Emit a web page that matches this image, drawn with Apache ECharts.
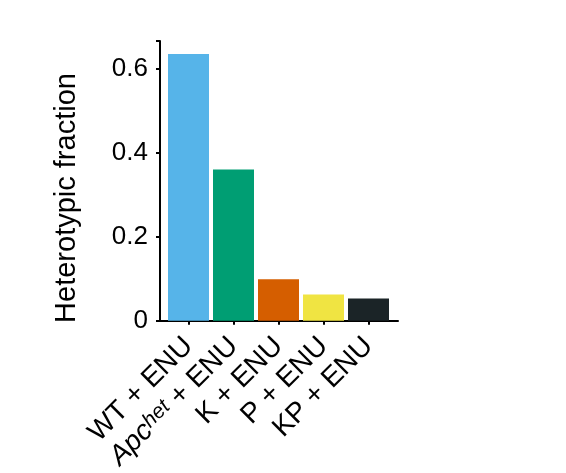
<!DOCTYPE html>
<html>
<head>
<meta charset="utf-8">
<script src="https://cdn.jsdelivr.net/npm/echarts@6/dist/echarts.min.js"></script>
<style>
html,body{margin:0;padding:0;background:#fff;}
#chart{width:566px;height:473px;}
</style>
</head>
<body>
<div id="chart"></div>
<script>
var categories = ['WT + ENU', 'Apc het + ENU', 'K + ENU', 'P + ENU', 'KP + ENU'];
var values = [0.635, 0.360, 0.099, 0.063, 0.053];
var barColors = ['#56B4E9', '#009E73', '#D55E00', '#F0E442', '#1B2427'];
var yTicks = [0, 0.2, 0.4, 0.6];
var yTitle = 'Heterotypic fraction';

var FONT = 'Liberation Sans';
var chart = echarts.init(document.getElementById('chart'));
var yMax = 0.666;

chart.setOption({
  backgroundColor: '#fff',
  animation: false,
  textStyle: { fontFamily: FONT },
  grid: [
    { left: 160, right: 168, top: 41, bottom: 152 },
    { left: 166, right: 175, top: 41, bottom: 152 }
  ],
  xAxis: [
    { type: 'value', gridIndex: 0, min: 0, max: 1,
      axisLine: { show: true, lineStyle: { color: '#000', width: 2 } },
      axisTick: { show: false }, axisLabel: { show: false }, splitLine: { show: false } },
    { type: 'category', gridIndex: 1, data: categories, boundaryGap: true,
      axisLine: { show: false },
      axisTick: { show: true, alignWithLabel: true, length: 4, lineStyle: { color: '#000', width: 2 } },
      axisLabel: {
        rotate: 45, margin: 21, color: '#000', fontSize: 28, fontFamily: FONT, interval: 0,
        formatter: function (v) {
          if (v.indexOf('Apc het') === 0) { return '{i|Apc}{s|het}' + v.slice(7); }
          return v;
        },
        rich: {
          i: { fontStyle: 'italic', fontSize: 28, fontFamily: FONT, color: '#000' },
          s: { fontStyle: 'italic', fontSize: 21, fontFamily: FONT, color: '#000', verticalAlign: 'top', padding: [0, 0, 6, 0] }
        }
      },
      splitLine: { show: false } }
  ],
  yAxis: [
    { type: 'value', gridIndex: 0, min: 0, max: yMax, interval: 0.2,
      name: yTitle, nameLocation: 'middle', nameGap: 79,
      nameTextStyle: { fontSize: 29, color: '#000', fontFamily: FONT, padding: [0, 34, 0, 0] },
      axisLine: { show: true, lineStyle: { color: '#000', width: 2 } },
      axisTick: { show: true, length: 4, lineStyle: { color: '#000', width: 2 } },
      axisLabel: { fontSize: 26, color: '#000', margin: 12, fontFamily: FONT,
        formatter: function (v) {
          for (var k = 0; k < yTicks.length; k++) { if (Math.abs(v - yTicks[k]) < 1e-6) return String(yTicks[k]); }
          return '';
        } },
      splitLine: { show: false } },
    { type: 'value', gridIndex: 1, min: 0, max: yMax, show: false, splitLine: { show: false } }
  ],
  series: [{
    type: 'bar', xAxisIndex: 1, yAxisIndex: 1, barWidth: 41,
    data: values.map(function (v, i) { return { value: v, itemStyle: { color: barColors[i] } }; })
  }]
});
</script>
</body>
</html>
